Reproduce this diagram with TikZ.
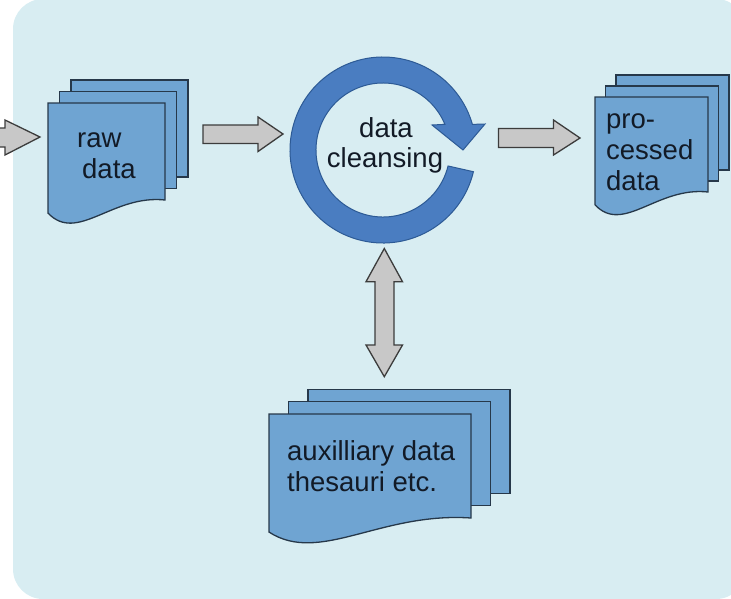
\documentclass[tikz,border=0pt]{standalone}
\usepackage{fontspec}
\setmainfont{Liberation Sans}
\definecolor{bgblue}{HTML}{D8EDF2}
\definecolor{docblue}{HTML}{6FA4D2}
\definecolor{docline}{HTML}{26384A}
\definecolor{ringblue}{HTML}{4A7DC1}
\definecolor{ringline}{HTML}{2D5A95}
\definecolor{arrowgrey}{HTML}{C8C8C8}
\definecolor{arrowline}{HTML}{3C3C3C}
\definecolor{txt}{HTML}{121A26}
\tikzset{
  page/.style={fill=docblue, draw=docline, line width=1.3pt, line join=miter},
  blockarrow/.style={fill=arrowgrey, draw=arrowline, line width=1.3pt, line join=miter},
  ringarrow/.style={fill=ringblue, draw=ringline, line width=1pt, line join=miter},
  lbl/.style={text=txt, inner sep=0pt, font=\fontsize{27.5}{31}\selectfont},
}
% x y w h dx dy : stack of three pages, front page with wavy bottom
\newcommand\docstack[6]{%
  \draw[page] (#1+2*#5,#2-2*#6) rectangle (#1+#3+2*#5,#2+#4-2*#6);
  \draw[page] (#1+#5,#2-#6) rectangle (#1+#3+#5,#2+#4-#6);
  \draw[page] (#1,#2) -- (#1+#3,#2) -- (#1+#3,#2+#4)
    .. controls (#1+0.55*#3,#2+0.94*#4) and (#1+0.25*#3,#2+1.45*#4) .. (#1,#2+1.135*#4) -- cycle;
}
\begin{document}
\begin{tikzpicture}[x=1pt,y=-1pt]
\useasboundingbox (0,0) rectangle (731,598);
\fill[bgblue, rounded corners=30pt] (13,-1) rectangle (746,599);

% document stacks
\docstack{48}{103}{117}{97}{11.5}{11.5}
\docstack{269}{414}{202}{104}{19.5}{12.3}
\docstack{595}{97}{113}{95}{10.5}{11}

% grey block arrows
\draw[blockarrow] (-5,128) -- (5,128) -- (5,120) -- (40,137) -- (5,155) -- (5,147) -- (-5,147) -- cycle;
\draw[blockarrow] (203,125) -- (258,125) -- (258,117) -- (283,134) -- (258,151.5) -- (258,143.5) -- (203,143.5) -- cycle;
\draw[blockarrow] (498.5,128.5) -- (553.5,128.5) -- (553.5,120) -- (580,138) -- (553.5,155) -- (553.5,147.5) -- (498.5,147.5) -- cycle;
\draw[blockarrow] (384.3,248.5) -- (402.5,281.7) -- (394,281.7) -- (394,345) -- (402.5,345) -- (384.3,376.7)
  -- (366,345) -- (375,345) -- (375,281.7) -- (366,281.7) -- cycle;

% circular arrow
\begin{scope}[shift={(383,150)}]
\draw[ringarrow] (13.5:93) arc[start angle=13.5, end angle=344, radius=93]
  -- (102,-26) -- (80,0) -- (49,-25) -- (337.5:67)
  arc[start angle=337.5, end angle=13.8, radius=67] -- cycle;
\end{scope}

% labels
\node[lbl, anchor=base west] (raw1) at (77,147) {raw};
\node[lbl, anchor=base west] (raw2) at (82,178) {data};
\node[lbl, anchor=base] (cl1) at (386,137) {data};
\node[lbl, anchor=base] (cl2) at (385,167) {cleansing};
\node[lbl, anchor=base west] (pr1) at (606,128) {pro-};
\node[lbl, anchor=base west] (pr2) at (606,159) {cessed};
\node[lbl, anchor=base west] (pr3) at (606,190) {data};
\node[lbl, anchor=base west] (ax1) at (287,460) {auxilliary data};
\node[lbl, anchor=base west] (ax2) at (287,491) {thesauri etc.};
\end{tikzpicture}
\end{document}
